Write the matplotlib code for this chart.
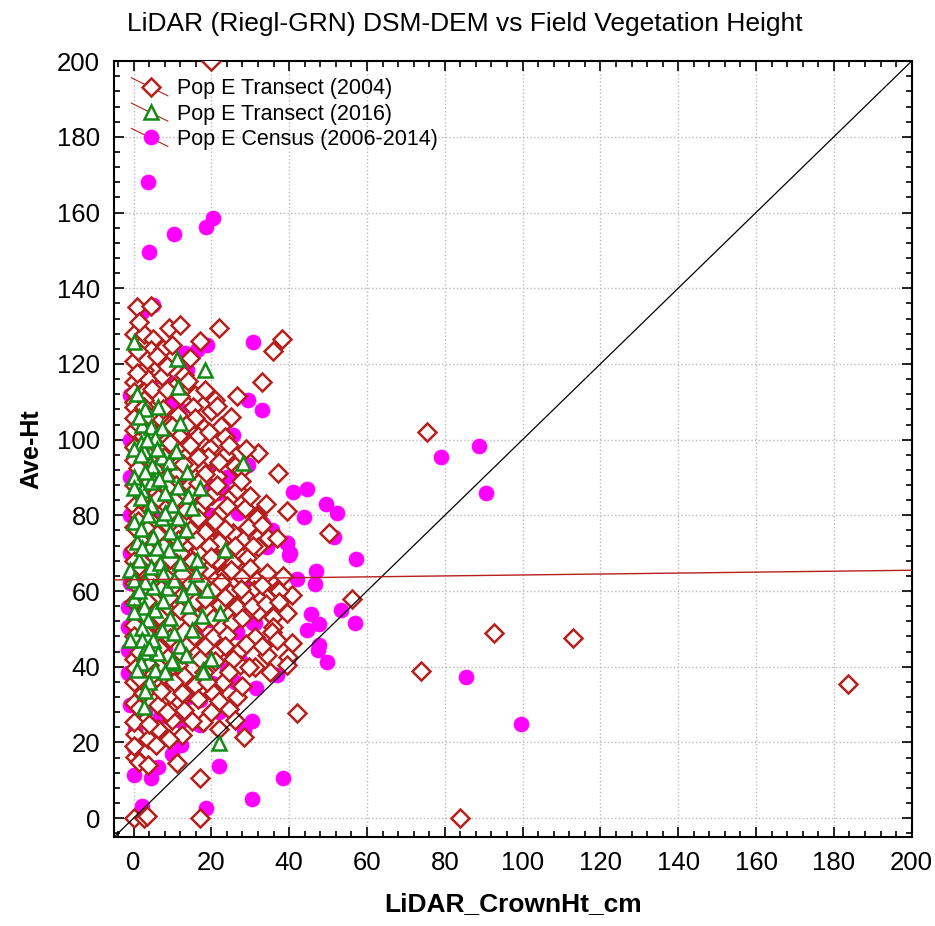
import numpy as np
import matplotlib
matplotlib.use("Agg")
import matplotlib.pyplot as plt
from matplotlib.lines import Line2D
from matplotlib.legend_handler import HandlerBase
from matplotlib.ticker import MultipleLocator

plt.rcParams["font.family"] = ["Liberation Sans", "DejaVu Sans"]

# Pop E Transect (2004) -- (LiDAR crown height, field Ave-Ht)
tr2004 = [
    (0, 127.8), (2.6, 128), (4.9, 126.5), (0.8, 135), (4.4, 135.2), (9, 129.6), (12, 130.4),
    (22, 129.6), (4.4, 123.8), (0, 120.9), (5.1, 119), (2.6, 118.3), (7.5, 124), (1.5, 131),
    (0, 115.3), (3.6, 115.9), (7.4, 116.7), (0, 112.7), (2.6, 112.7), (15.9, 111.9), (26.7, 111.6),
    (6.4, 111.1), (10.5, 114), (13, 117), (2.6, 110.6), (0, 110),
    (0, 108.5), (2.6, 108.5), (15.4, 108.5), (11.5, 106.6), (15.9, 105.8), (22.6, 103.7), (0, 105.8),
    (4.4, 103.7), (23.6, 100.8), (0, 102.6), (8.7, 100.5), (18, 103), (12, 101.5), (6.5, 106),
    (20, 107.5), (2.5, 101),
    (0, 98.1), (10, 96.8), (19.7, 97.9), (13.8, 96), (23.6, 96), (32, 96.6), (0, 94.7), (4.4, 94.7),
    (8.7, 92.9), (17.7, 92.9), (19.2, 95.5), (15.1, 93.9), (37.2, 91.3), (26, 93), (2.5, 91), (6, 98),
    (11.5, 91.5), (21.5, 90.5), (29, 97.5),
    (10.8, 88.1), (14.6, 88.1), (20.3, 85.4), (25.4, 85.4), (26.7, 86.8), (28.7, 82), (39.5, 81.2),
    (0, 88), (2.5, 85), (5, 87), (7.5, 83.5), (12.5, 84), (17, 82), (22.5, 81), (0, 82.5), (3.5, 81),
    (9, 80.5), (15, 86), (31.8, 80),
    (31.8, 79.4), (16.7, 79.4), (20.5, 77), (25.6, 75.4), (28.2, 73.5), (31.8, 74.1), (34.6, 74.1),
    (36.9, 74.1), (32.1, 71.7), (13.8, 72.8), (17.2, 70.9), (0, 77), (2.5, 74.5), (5, 78), (7.5, 72),
    (10.5, 76.5), (0, 71), (4, 70.5), (12, 70), (22, 73), (18.5, 75.5), (50.3, 75.4), (30.8, 72),
    (21.5, 68.3), (25.6, 67.5), (29.2, 68.8), (19, 65.6), (23.6, 64.8), (27.9, 63.8), (31.8, 63),
    (34.4, 64.8), (36.9, 60.3), (40.8, 59), (21, 60.8), (0, 68), (2.5, 65), (5.5, 69), (8, 64),
    (11, 67.5), (14, 62.5), (16.5, 66), (0, 62), (3.5, 61), (7, 60.5), (10.5, 61.5), (37.4, 60),
    (31, 60.3),
    (24.9, 59.5), (29.2, 58.2), (32.6, 57.7), (22.3, 56.3), (26.7, 55.8), (32.1, 54.5), (35.9, 53.2),
    (39.5, 54.2), (17.7, 51.9), (25.4, 51.6), (56.2, 57.9), (35.9, 50.5), (0, 57), (2.5, 54), (5, 58),
    (8, 55.5), (11, 52), (13.5, 57), (19, 55), (0, 51), (4, 50.5), (7, 52.5), (15, 59),
    (31.3, 47.9), (35.6, 49.2), (40.8, 46.3), (20.5, 47.9), (21.8, 44.4), (27.4, 44.4), (34.4, 43.1),
    (39.7, 42.6), (27.4, 40.5), (31.3, 39.9), (39.5, 40.5), (0, 48), (2.5, 45), (5, 47.5), (8, 43),
    (11.5, 40.5), (14, 46), (17, 42), (0, 42), (4, 40.5), (24, 48.5),
    (35.1, 38.6), (29.7, 39.9), (20.5, 33.1), (26.7, 32), (15.9, 35.2), (11.8, 31), (9.5, 32.8),
    (0, 36), (0.5, 39.7), (6.2, 29.9), (2.5, 33), (5, 38), (13, 37.5), (18, 38.5), (23, 36),
    (0, 30.5), (8, 37.5),
    (24.6, 28.8), (42, 27.8), (17.9, 25.4), (15.1, 25.7), (6.4, 23.5), (0.5, 22.2), (3.6, 20.9),
    (5.9, 19.3), (28.5, 21.4), (2, 27), (10, 26), (0, 25.5), (12.5, 22),
    (0.3, 16.1), (1.5, 14.8), (3.6, 14), (11.3, 14.5), (17.2, 10.6), (0, 0), (2.6, 0), (3.4, 0.5),
    (17.2, 0), (0, 19),
    (20, 200), (183.6, 35.4), (113, 47.6), (92.6, 49), (74, 39), (84, 0), (75.4, 102),
    (38.2, 126.5), (35.9, 123.3), (33.1, 115.3),
    # second pass over the dense block near the y axis
    (1.2, 123.5), (3.5, 121), (6, 122), (8.5, 119.5), (10, 125), (14.5, 121.5), (17, 126),
    (1, 117.5), (4.8, 113.5), (8.5, 113), (12, 111.5), (14, 115.5), (18.5, 113), (21, 110.5),
    (1.3, 104), (3.8, 106.5), (5.5, 101.5), (7.5, 108), (10, 103.5), (13.5, 104), (16.5, 101),
    (19.5, 102), (21.5, 109), (25, 106),
    (1.2, 92.5), (3.3, 96.5), (5.5, 92), (7.8, 95.5), (9.5, 99), (12.8, 93.5), (14.5, 98.5),
    (16.5, 95.5), (18.5, 91), (22, 94), (24.5, 98.5), (27.5, 92),
    (1.2, 80), (3.8, 88.5), (6.2, 84.5), (8.5, 87.5), (10.5, 84), (13.5, 81.5), (16.5, 88.5),
    (18.5, 84), (21.5, 88), (24, 82.5), (27.5, 89), (30, 85), (34, 83),
    (1.2, 78.5), (3.5, 76.5), (6, 75), (8.8, 77.5), (11.5, 73.5), (14.5, 76), (16, 73.5),
    (19.5, 72), (21, 78.5), (23.5, 76.5), (26, 72), (29.5, 77), (33, 77.5),
    (1.3, 66.5), (4, 63.5), (6.5, 66), (9.5, 68.5), (12.5, 64.5), (15, 68), (17.5, 62), (20, 69),
    (22.5, 62.5), (25, 65.5), (27.5, 60.5), (30, 66), (33, 61.5), (38.5, 64),
    (1.3, 58.5), (3.5, 57.5), (6.5, 53.5), (9, 58.5), (12, 55), (14.5, 53), (16, 57.5), (18.5, 58),
    (20.5, 53), (23.5, 58.5), (28, 53), (30.5, 56), (34, 56.5), (37.5, 57),
    (1.3, 44), (3.5, 48.5), (6.5, 45), (9.5, 47.5), (12.5, 43.5), (15.5, 48), (18.5, 45.5),
    (21, 41.5), (23.5, 45.5), (25.5, 42), (29, 46), (33, 45.5), (37, 47),
    (1.3, 37), (4, 34.5), (7, 33.5), (10.5, 36), (12.5, 33), (16.5, 31.5), (19, 36), (22, 31),
    (24.5, 38.5), (28, 35),
    (1.3, 29), (4, 25), (8.5, 28), (13, 28.5), (20, 28), (22, 23.5), (9, 21), (26, 26),
]

# Pop E Transect (2016)
tr2016 = [
    (0, 125.7), (11.3, 121.2), (18.5, 118.5), (11.5, 114), (6.4, 108.5), (2.3, 104), (12, 104.5),
    (4.4, 103.4), (7.4, 103.2), (5.6, 100.5), (1.8, 99.2), (0, 97.4), (2.6, 97), (7.4, 95.5),
    (1.8, 96), (9, 94.2), (28.2, 93.9), (4.8, 93), (13.8, 91.5), (4.9, 89.4), (0, 90.2), (17.2, 87.3),
    (2.3, 86.8), (0, 87.3), (4.4, 88.9), (1.8, 84.7), (4.4, 82.8), (10, 82.8), (0, 78.3), (3.6, 80.2),
    (7.4, 79.4), (11.5, 79.4), (9.5, 75.7), (1, 73), (5.1, 74.3), (11.3, 72.8), (23.6, 70.9),
    (9, 70.9), (1.3, 68.3), (2.3, 71.5), (-0.8, 65.6), (4.4, 66.4), (6.9, 67.5), (16.4, 68.3),
    (12, 67.5), (0, 63), (5.1, 61.1), (8.7, 60.8), (15.1, 61.1), (19, 60.3), (12.6, 59), (0, 58.2),
    (2.6, 55.8), (5.6, 55), (9.5, 52.9), (3.6, 52.4), (0, 54.5), (22.3, 54.2), (2.3, 50.3),
    (7.4, 49.7), (10.3, 48.9), (15.1, 49.7), (-0.8, 47.1), (2.3, 47.1), (5, 47), (2.6, 43.9),
    (6.4, 43.7), (10.3, 41), (1.8, 41), (5.6, 39.2), (17.9, 39.2), (10, 41.5), (17.9, 38.6),
    (4.1, 36), (2.6, 29.4), (1, 39.2), (22, 19.8), (8, 86), (14, 85), (3, 108), (1, 112),
    (1.5, 106), (3.5, 100), (6, 97.5), (8.5, 91), (11, 97), (3, 91.5), (6.5, 89.5), (11.5, 87.5),
    (15, 82), (2, 76.5), (6, 71.5), (8, 80.5), (13.5, 76), (3, 62.5), (7.5, 64.5), (10.5, 63),
    (14, 56), (17.5, 53.5), (1.5, 60), (7.5, 57.5), (12, 45.5), (4, 45), (8, 38.5), (13.5, 43),
    (20, 42), (3, 33.5), (16, 64.5),
]

# Pop E Census (2006-2014)
census = [
    (3.8, 168), (4.1, 149.5), (10.5, 154.2), (18.7, 156.3), (20.5, 158.5), (2.3, 133.6), (5.1, 135.7),
    (19, 125.1), (16.4, 123.8), (13.3, 123), (30.8, 125.7), (13.8, 118.5), (6.9, 120.4), (6.4, 116.7),
    (9, 115.3), (-0.8, 111.9), (29.5, 110.6), (33, 107.7), (12, 107.9), (25.6, 101.3), (19.7, 92.6),
    (29.5, 93.4), (41, 86.2), (21.8, 86), (17.7, 89.4), (44.6, 87), (43.8, 79.6), (49.5, 83),
    (52.3, 80.7), (33.3, 77.8), (35.6, 76.2), (39.5, 72.7), (40, 69.6), (51.5, 74.3), (57.2, 68.5),
    (46.9, 65.3), (46.7, 61.9), (42, 63.2), (30.8, 62.2), (53.3, 55), (56.9, 51.6), (47.7, 51.3),
    (44.6, 49.7), (31.3, 51.6), (32.6, 46.3), (47.7, 45.8), (45.5, 54),
    (79, 95.5), (88.7, 98.2), (90.5, 86), (85.4, 37.3), (99.7, 24.9),
    (19.7, 88.6), (23.1, 86.8), (26.9, 80.7), (39.5, 72.8), (40.3, 70.1), (34.4, 71.7), (29.2, 63),
    (28.2, 60.3), (30.8, 59.5), (27.4, 55.8), (30.8, 51.6), (26.7, 49.2), (39.7, 41.8), (36.9, 37.8),
    (27.4, 41.8), (17.9, 58.5), (19.7, 52.4), (-1.5, 55.8), (-1.5, 50.5), (-1.5, 44.4), (-1.5, 38.4),
    (24.1, 39.2),
    (49.7, 41.3), (47.4, 44.4), (26.2, 36), (31.5, 34.4), (30.5, 25.7), (28.5, 23.3), (12.1, 25.7),
    (12.1, 19.3), (10, 16.9), (6.4, 13.5), (0, 11.4), (4.4, 10.6), (22, 13.8), (38.5, 10.6),
    (30.5, 5), (18.7, 2.6), (2.3, 3.2), (0, 18.8), (0.5, 23.3), (17.2, 24.6), (17.2, 31.2),
    (20.3, 35.7), (6.9, 26.7),
    (-1, 100), (-1, 90), (-1, 80), (-1, 70), (-1, 62), (10, 110), (15, 100), (20, 80), (22, 70),
    (18, 65), (25, 58), (8, 45), (14, 32), (20, 45), (22, 28), (3, 28), (-1, 30),
    (2, 95), (5, 80), (8, 72), (12, 88), (14, 60), (6, 55), (3, 45), (10, 35), (16, 48), (24, 66),
    (24, 90),
]

# fitted regression line (all data) and 1:1 line
fit_intercept = 63.0
fit_slope = 0.0125
x_range = [-5, 200]

dk_red = "#b5201c"
green = "#138a13"
magenta = "#ff00ff"


class DiagHandler(HandlerBase):
    # legend key: short diagonal fit line through the marker
    def create_artists(self, legend, orig, xd, yd, w, h, fs, trans):
        diag = Line2D([-xd, -xd + w], [-yd + h * 1.1, -yd - h * 0.1],
                      color=dk_red, lw=0.8, transform=trans)
        mk = Line2D([-xd + w * 0.55], [-yd + h / 2], linestyle="none",
                    marker=orig.get_marker(), markersize=orig.get_markersize(),
                    mfc=orig.get_markerfacecolor(), mec=orig.get_markeredgecolor(),
                    mew=orig.get_markeredgewidth(), transform=trans)
        return [diag, mk]


fig = plt.figure(figsize=(9.35, 9.26), dpi=100)
ax = fig.add_axes([0.122, 0.096, 0.853, 0.838])

cx, cy = zip(*census)
ax.plot(cx, cy, linestyle="none", marker="o", markersize=10.8, mfc=magenta, mec=magenta,
        mew=0.5, zorder=2, label="Pop E Census (2006-2014)")
dx, dy = zip(*tr2004)
ax.plot(dx, dy, linestyle="none", marker="D", markersize=9.3, mfc="white", mec=dk_red,
        mew=1.8, zorder=3, label="Pop E Transect (2004)")
tx, ty = zip(*tr2016)
ax.plot(tx, ty, linestyle="none", marker="^", markersize=10, mfc="white", mec=green,
        mew=1.8, zorder=4, label="Pop E Transect (2016)")

xs = np.array(x_range)
ax.plot(xs, xs, color="black", lw=0.9, zorder=5)
ax.plot(xs, fit_intercept + fit_slope * xs, color=dk_red, lw=1.0, zorder=5)

ax.set_xlim(-5, 200)
ax.set_ylim(-5, 200)
ax.xaxis.set_major_locator(MultipleLocator(20))
ax.yaxis.set_major_locator(MultipleLocator(20))
ax.xaxis.set_minor_locator(MultipleLocator(4))
ax.yaxis.set_minor_locator(MultipleLocator(4))
ax.tick_params(which="both", direction="in", top=True, right=True, width=1.2,
               labelsize=18.5, pad=10)
ax.tick_params(which="major", length=7)
ax.tick_params(which="minor", length=4)
ax.grid(True, which="major", linestyle=":", color="#bbbbbb", lw=1.0)
for sp in ax.spines.values():
    sp.set_linewidth(1.5)

ax.set_xlabel("LiDAR_CrownHt_cm", fontsize=19, fontweight="bold", labelpad=12)
ax.set_ylabel("Ave-Ht", fontsize=18, fontweight="bold", labelpad=10)
fig.suptitle("LiDAR (Riegl-GRN) DSM-DEM vs Field Vegetation Height", fontsize=19, y=0.987,
             x=0.497)

h, l = ax.get_legend_handles_labels()
order = [1, 2, 0]
ax.legend([h[i] for i in order], [l[i] for i in order], loc="upper left", frameon=False,
          fontsize=15.5, handlelength=1.7, handletextpad=0.4, labelspacing=0.2,
          borderaxespad=0.4, bbox_to_anchor=(0.0, 1.0),
          handler_map={Line2D: DiagHandler()})

fig.savefig("out.png", dpi=100, facecolor="white")
